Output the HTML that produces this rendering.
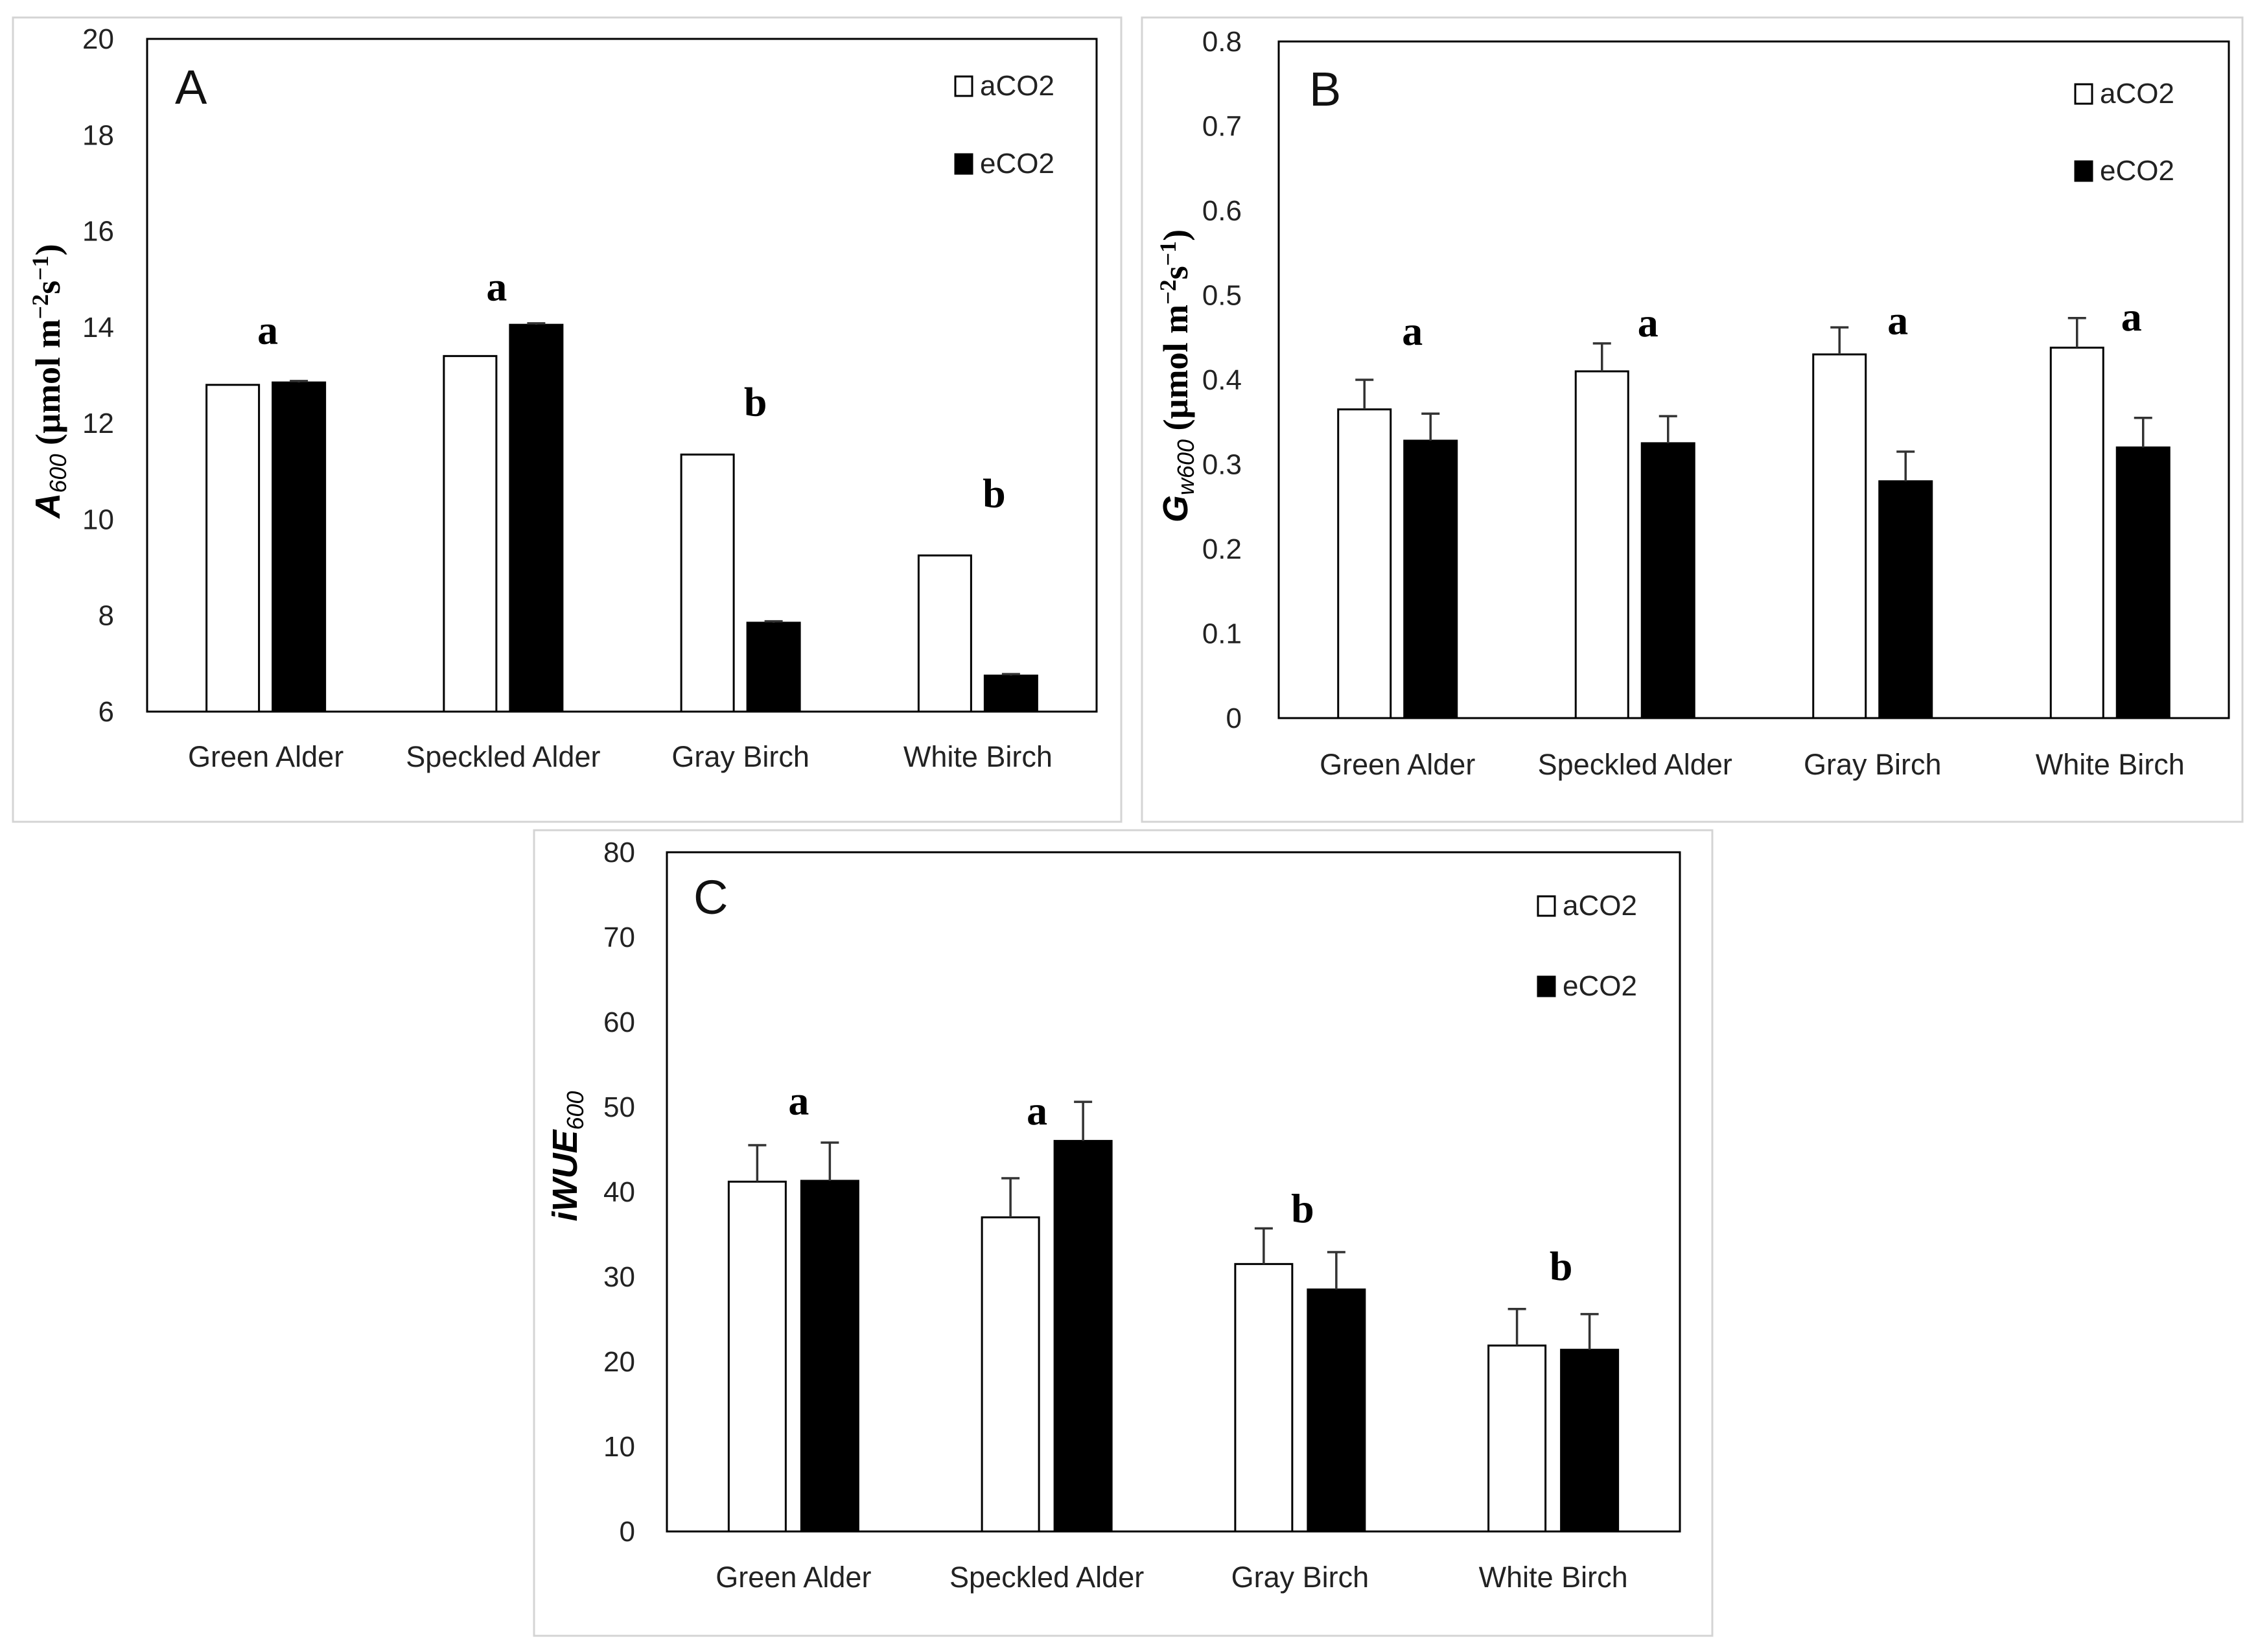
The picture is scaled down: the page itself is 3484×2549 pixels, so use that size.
<!DOCTYPE html>
<html><head><meta charset="utf-8"><style>
html,body{margin:0;padding:0;background:#fff;}
svg{display:block;}
text{font-family:"Liberation Sans",sans-serif;}
</style></head><body>
<svg id="fig" width="3484" height="2549" viewBox="0 0 3484 2549" xmlns="http://www.w3.org/2000/svg"></svg>
<script>
const categories = ["Green Alder","Speckled Alder","Gray Birch","White Birch"];
const seriesNames = ["aCO2","eCO2"];
// Panel A
const aAmbient = [12.8, 13.4, 11.35, 9.25];
const aElevated = [12.85, 14.05, 7.85, 6.75];
const aAmbientErr = [0, 0, 0, 0];
const aElevatedErr = [0.03, 0.03, 0.03, 0.03];
const aLetters = ["a","a","b","b"];
const aLetterVals = [13.9, 14.8, 12.4, 10.5];
const aTicks = [6,8,10,12,14,16,18,20];
// Panel B
const bAmbient = [0.365, 0.41, 0.43, 0.438];
const bElevated = [0.328, 0.325, 0.28, 0.32];
const bAmbientErr = [0.035, 0.033, 0.032, 0.035];
const bElevatedErr = [0.032, 0.032, 0.035, 0.035];
const bLetters = ["a","a","a","a"];
const bLetterVals = [0.455, 0.465, 0.468, 0.472];
const bTicks = [0,0.1,0.2,0.3,0.4,0.5,0.6,0.7,0.8];
// Panel C
const cAmbient = [41.2, 37, 31.5, 21.9];
const cElevated = [41.3, 46, 28.5, 21.4];
const cAmbientErr = [4.3, 4.6, 4.2, 4.3];
const cElevatedErr = [4.5, 4.6, 4.4, 4.2];
const cLetters = ["a","a","b","b"];
const cLetterVals = [50.5, 49.3, 37.8, 31.0];
const cTicks = [0,10,20,30,40,50,60,70,80];

const NS = "http://www.w3.org/2000/svg";
const svg = document.getElementById("fig");
function mk(tag, attrs, parent, txt){
  const e = document.createElementNS(NS, tag);
  for (const k in attrs) e.setAttribute(k, attrs[k]);
  if (txt !== undefined) e.textContent = txt;
  (parent || svg).appendChild(e);
  return e;
}

function panel(cfg){
  const g = mk("g", {});
  
  
  const fr = mk("rect", {x:cfg.frame[0], y:cfg.frame[1], width:cfg.frame[2]-cfg.frame[0], height:cfg.frame[3]-cfg.frame[1], fill:"#fff", stroke:"#d4d4d4", "stroke-width":3}, g);
  
  
  const [L,T,R,B] = cfg.plot;
  const lo = cfg.ticks[0], hi = cfg.ticks[cfg.ticks.length-1];
  const y = v => B - (v - lo) / (hi - lo) * (B - T);
  const cw = (R - L) / categories.length;
  const x = i => L + cw * (i + 0.5);
  // ticks
  cfg.ticks.forEach(t => {
    const tl = mk("text", {x:cfg.tickRight, y:y(t)+15, "text-anchor":"end", "font-size":44, fill:"#222"}, g, String(t));
    
    
  });
  // bars
  const draw = (vals, errs, off, fill, name) => {
    vals.forEach((v,i) => {
      const cx = x(i) + off;
      const r = mk("rect", {x:cx - cfg.bw/2, y:y(v), width:cfg.bw, height:B - y(v), fill:fill, stroke:"#000", "stroke-width":3}, g);
      
      
      if (errs[i] > 0) {
        const e = mk("path", {d:`M${cx} ${y(v)} V${y(v+errs[i])} M${cx-14} ${y(v+errs[i])} H${cx+14}`, stroke:"#333", "stroke-width":3.5, fill:"none"}, g);
        
        
      }
    });
  };
  draw(cfg.amb, cfg.ambErr, -cfg.off, "#fff", "aco2");
  draw(cfg.ele, cfg.eleErr, cfg.off, "#000", "eco2");
  // axes box
  const ax = mk("rect", {x:L, y:T, width:R-L, height:B-T, fill:"none", stroke:"#000", "stroke-width":3}, g);
  
  
  // letters
  cfg.letters.forEach((l,i) => {
    const t = mk("text", {x:x(i)+cfg.letterOff[i], y:y(cfg.letterVals[i])+18, "text-anchor":"middle", "font-size":64, "font-weight":"bold", style:'font-family:"Liberation Serif",serif'}, g, l);
    
    
  });
  // x labels
  categories.forEach((c,i) => {
    const t = mk("text", {x:x(i), y:cfg.xLabelY, "text-anchor":"middle", "font-size":45, fill:"#222"}, g, c);
    
    
  });
  // panel letter
  const pl = mk("text", {x:cfg.label[0], y:cfg.label[1], "font-size":74, fill:"#111"}, g, cfg.id.toUpperCase().slice(-1));
  
  
  // legend
  const [lx, ly1, ly2] = cfg.legend;
  [[ly1,"#fff",seriesNames[0]],[ly2,"#000",seriesNames[1]]].forEach(([ly,f,n]) => {
    const s = mk("rect", {x:lx, y:ly, width:26, height:30, fill:f, stroke:"#000", "stroke-width":3}, g);
    
    
    const t = mk("text", {x:lx+38, y:ly+29, "font-size":44, fill:"#222"}, g, n);
    
    
  });
  // y title
  const yt = mk("text", {transform:`translate(${cfg.yTitle[0]},${cfg.yTitle[1]}) rotate(-90)`, "text-anchor":"middle", "font-size":54, "font-weight":"bold", style:cfg.yTitleFont}, g);
  
  
  yt.innerHTML = cfg.yTitleHTML;
}

panel({id:"panel-a", frame:[20,27,1730,1268], plot:[227,60,1692,1098], ticks:aTicks, tickRight:176,
  amb:aAmbient, ele:aElevated, ambErr:aAmbientErr, eleErr:aElevatedErr, bw:81, off:51,
  letters:aLetters, letterVals:aLetterVals, letterOff:[3,-10,23,25], xLabelY:1183,
  label:[270,160], legend:[1474,118,238], yTitle:[92,588],
  yTitleFont:'font-family:"Liberation Serif",serif',
  yTitleHTML:'<tspan style="font-family:Liberation Sans,sans-serif;font-style:italic">A</tspan><tspan style="font-family:Liberation Sans,sans-serif;font-style:italic;font-weight:normal" font-size="36" dy="10">600</tspan><tspan dy="-10"> (µmol m</tspan><tspan font-size="36" dy="-18">−2</tspan><tspan dy="18">s</tspan><tspan font-size="36" dy="-18">−1</tspan><tspan dy="18">)</tspan>'});

panel({id:"panel-b", frame:[1762,27,3460,1268], plot:[1973,64,3439,1108], ticks:bTicks, tickRight:1916,
  amb:bAmbient, ele:bElevated, ambErr:bAmbientErr, eleErr:bElevatedErr, bw:81, off:51,
  letters:bLetters, letterVals:bLetterVals, letterOff:[23,20,39,33], xLabelY:1195,
  label:[2020,163], legend:[3202,130,249], yTitle:[1832,580],
  yTitleFont:'font-family:"Liberation Serif",serif',
  yTitleHTML:'<tspan style="font-family:Liberation Sans,sans-serif;font-style:italic">G</tspan><tspan style="font-family:Liberation Sans,sans-serif;font-style:italic;font-weight:normal" font-size="36" dy="10">w600</tspan><tspan dy="-10"> (µmol m</tspan><tspan font-size="36" dy="-18">−2</tspan><tspan dy="18">s</tspan><tspan font-size="36" dy="-18">−1</tspan><tspan dy="18">)</tspan>'});

panel({id:"panel-c", frame:[824,1281,2642,2524], plot:[1029,1315,2592,2363], ticks:cTicks, tickRight:980,
  amb:cAmbient, ele:cElevated, ambErr:cAmbientErr, eleErr:cElevatedErr, bw:88, off:56,
  letters:cLetters, letterVals:cLetterVals, letterOff:[8,-15,4,12], xLabelY:2449,
  label:[1070,1410], legend:[2373,1383,1507], yTitle:[890,1784],
  yTitleFont:'font-family:"Liberation Sans",sans-serif;font-style:italic',
  yTitleHTML:'<tspan>iWUE</tspan><tspan font-size="36" font-weight="normal" dy="10">600</tspan>'});
</script>
</body></html>
